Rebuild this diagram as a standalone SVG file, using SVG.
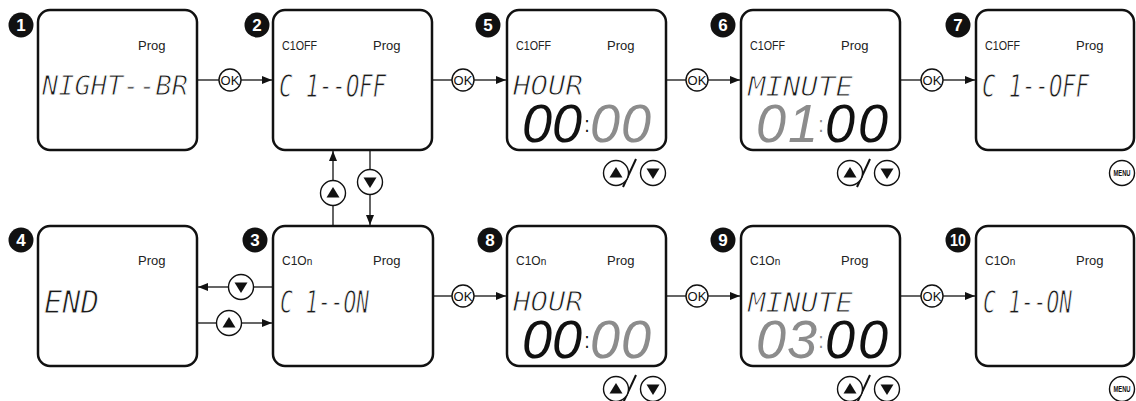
<svg xmlns="http://www.w3.org/2000/svg" xmlns:xlink="http://www.w3.org/1999/xlink" width="1136" height="401" viewBox="0 0 1136 401">
<style>
.panel{fill:#fff;stroke:#111;stroke-width:2.5}
.badge{fill:#111}
.bnum{font-family:"Liberation Sans",Arial,sans-serif;font-weight:bold;font-size:17px;fill:#fff;text-anchor:middle}
.small{font-family:"Liberation Sans",Arial,sans-serif;font-size:13px;fill:#222}
.ind{font-family:"Liberation Sans",Arial,sans-serif;font-size:12px;fill:#222}
.lcd{font-family:"DejaVu Sans Mono",monospace;font-style:oblique;fill:#1a1a1a;stroke:#fff;stroke-width:0.9}
.dig{font-family:"Liberation Sans",Arial,sans-serif;font-style:italic;font-size:54px}
.on{fill:#111}
.off{fill:#8c8c8c}
.col{font-family:"Liberation Sans",Arial,sans-serif;font-size:22px;text-anchor:middle}
.line{stroke:#111;stroke-width:1.3;fill:none}
.btn{fill:#fff;stroke:#111;stroke-width:1.4}
.ok{font-family:"Liberation Sans",Arial,sans-serif;font-size:13px;fill:#111;text-anchor:middle}
.menu{font-family:"Liberation Sans",Arial,sans-serif;font-weight:bold;font-size:9px;fill:#111;text-anchor:middle}
</style>
<defs>
<marker id="arr" markerUnits="userSpaceOnUse" markerWidth="10" markerHeight="8" refX="10" refY="4" orient="auto">
<path d="M0,0 L10,4 L0,8 z" fill="#111"/>
</marker>
<g id="bup"><circle class="btn" r="12.5"/><path d="M-6.5,4.5 L6.5,4.5 L0,-6 z" fill="#111"/></g>
<g id="bdn"><circle class="btn" r="12.5"/><path d="M-6.5,-4.5 L6.5,-4.5 L0,6 z" fill="#111"/></g>
<g id="pair"><line x1="-43" y1="14" x2="-30" y2="-14" stroke="#111" stroke-width="2"/><use xlink:href="#bup" x="-50" y="0"/><use xlink:href="#bdn" x="-13" y="0"/></g>
<g id="menu"><circle class="btn" r="12.5"/><text class="menu" y="3.2" textLength="17" lengthAdjust="spacingAndGlyphs">MENU</text></g>
<g id="okb"><circle class="btn" r="11"/><text class="ok" y="4.6">OK</text></g>
</defs>
<rect width="1136" height="401" fill="#fff"/>

<g id="connectors">
<line class="line" x1="197" y1="80" x2="219" y2="80"/><line class="line" x1="241" y1="80" x2="272" y2="80" marker-end="url(#arr)"/>
<use xlink:href="#okb" x="230" y="80"/>
<line class="line" x1="432" y1="80" x2="452" y2="80"/><line class="line" x1="474" y1="80" x2="506" y2="80" marker-end="url(#arr)"/>
<use xlink:href="#okb" x="463" y="80"/>
<line class="line" x1="666" y1="80" x2="686" y2="80"/><line class="line" x1="708" y1="80" x2="740" y2="80" marker-end="url(#arr)"/>
<use xlink:href="#okb" x="697" y="80"/>
<line class="line" x1="900" y1="80" x2="921" y2="80"/><line class="line" x1="943" y1="80" x2="975" y2="80" marker-end="url(#arr)"/>
<use xlink:href="#okb" x="932" y="80"/>
<line class="line" x1="433" y1="296" x2="452" y2="296"/><line class="line" x1="474" y1="296" x2="506" y2="296" marker-end="url(#arr)"/>
<use xlink:href="#okb" x="463" y="296"/>
<line class="line" x1="666" y1="296" x2="686" y2="296"/><line class="line" x1="708" y1="296" x2="740" y2="296" marker-end="url(#arr)"/>
<use xlink:href="#okb" x="697" y="296"/>
<line class="line" x1="900" y1="296" x2="921" y2="296"/><line class="line" x1="943" y1="296" x2="975" y2="296" marker-end="url(#arr)"/>
<use xlink:href="#okb" x="932" y="296"/>
<line class="line" x1="333" y1="226" x2="333" y2="205"/><line class="line" x1="333" y1="181" x2="333" y2="151" marker-end="url(#arr)"/>
<use xlink:href="#bup" x="333" y="193"/>
<line class="line" x1="370" y1="150" x2="370" y2="170"/><line class="line" x1="370" y1="194" x2="370" y2="225" marker-end="url(#arr)"/>
<use xlink:href="#bdn" x="370" y="182"/>
<line class="line" x1="273" y1="287" x2="253" y2="287"/><line class="line" x1="229" y1="287" x2="198" y2="287" marker-end="url(#arr)"/>
<use xlink:href="#bdn" x="241" y="287"/>
<line class="line" x1="197" y1="323" x2="217" y2="323"/><line class="line" x1="241" y1="323" x2="272" y2="323" marker-end="url(#arr)"/>
<use xlink:href="#bup" x="229" y="323"/>
</g>

<g id="panel1" transform="translate(38,10)">
<rect class="panel" width="159" height="140" rx="12"/>
<circle class="badge" cx="-17" cy="15" r="12.5"/><text class="bnum" x="-17" y="21">1</text>
<text class="small" x="100" y="40">Prog</text>
<text class="lcd" x="4" y="85" font-size="27" textLength="146" lengthAdjust="spacingAndGlyphs">NIGHT--BR</text>
</g>

<g id="panel2" transform="translate(273,10)">
<rect class="panel" width="159" height="140" rx="12"/>
<circle class="badge" cx="-16" cy="15" r="12.5"/><text class="bnum" x="-16" y="21">2</text>
<text class="ind" x="9" y="40" textLength="35" lengthAdjust="spacingAndGlyphs">C1OFF</text>
<text class="small" x="100" y="40">Prog</text>
<text class="lcd" x="6" y="87" font-size="32" textLength="107" lengthAdjust="spacingAndGlyphs">C 1--OFF</text>
</g>

<g id="panel5" transform="translate(507,10)">
<rect class="panel" width="159" height="140" rx="12"/>
<circle class="badge" cx="-19" cy="15" r="12.5"/><text class="bnum" x="-19" y="21">5</text>
<text class="ind" x="9" y="40" textLength="35" lengthAdjust="spacingAndGlyphs">C1OFF</text>
<text class="small" x="100" y="40">Prog</text>
<text class="lcd" x="6" y="85" font-size="27" textLength="70" lengthAdjust="spacingAndGlyphs">HOUR</text>
<text class="dig on" x="15" y="132">0</text><text class="dig on" x="45" y="132">0</text>
<text class="col on" x="80" y="122" textLength="5" lengthAdjust="spacingAndGlyphs">:</text>
<text class="dig off" x="83" y="132">0</text><text class="dig off" x="114" y="132">0</text>
<use xlink:href="#pair" x="159" y="163"/>
</g>

<g id="panel6" transform="translate(741,10)">
<rect class="panel" width="159" height="140" rx="12"/>
<circle class="badge" cx="-18" cy="15" r="12.5"/><text class="bnum" x="-18" y="21">6</text>
<text class="ind" x="9" y="40" textLength="35" lengthAdjust="spacingAndGlyphs">C1OFF</text>
<text class="small" x="100" y="40">Prog</text>
<text class="lcd" x="7" y="86" font-size="27" textLength="105" lengthAdjust="spacingAndGlyphs">MINUTE</text>
<text class="dig off" x="15" y="132">0</text><text class="dig off" x="47" y="132">1</text>
<text class="col off" x="80" y="122" textLength="5" lengthAdjust="spacingAndGlyphs">:</text>
<text class="dig on" x="84" y="132">0</text><text class="dig on" x="117" y="132">0</text>
<use xlink:href="#pair" x="159" y="163"/>
</g>

<g id="panel7" transform="translate(976,10)">
<rect class="panel" width="158" height="140" rx="12"/>
<circle class="badge" cx="-18" cy="15" r="12.5"/><text class="bnum" x="-18" y="21">7</text>
<text class="ind" x="9" y="40" textLength="35" lengthAdjust="spacingAndGlyphs">C1OFF</text>
<text class="small" x="100" y="40">Prog</text>
<text class="lcd" x="6" y="87" font-size="32" textLength="107" lengthAdjust="spacingAndGlyphs">C 1--OFF</text>
<use xlink:href="#menu" x="146" y="163"/>
</g>

<g id="panel4" transform="translate(38,226)">
<rect class="panel" width="159" height="140" rx="12"/>
<circle class="badge" cx="-17" cy="14" r="12.5"/><text class="bnum" x="-17" y="20">4</text>
<text class="small" x="100" y="39">Prog</text>
<text class="lcd" x="6" y="87" font-size="32" textLength="55" lengthAdjust="spacingAndGlyphs">END</text>
</g>

<g id="panel3" transform="translate(273,226)">
<rect class="panel" width="160" height="140" rx="12"/>
<circle class="badge" cx="-18" cy="14" r="12.5"/><text class="bnum" x="-18" y="20">3</text>
<text class="ind" x="9" y="39">C1O<tspan font-size="10">n</tspan></text>
<text class="small" x="100" y="39">Prog</text>
<text class="lcd" x="7" y="87" font-size="32" textLength="89" lengthAdjust="spacingAndGlyphs">C 1--ON</text>
</g>

<g id="panel8" transform="translate(507,226)">
<rect class="panel" width="159" height="140" rx="12"/>
<circle class="badge" cx="-17" cy="14" r="12.5"/><text class="bnum" x="-17" y="20">8</text>
<text class="ind" x="9" y="39">C1O<tspan font-size="10">n</tspan></text>
<text class="small" x="100" y="39">Prog</text>
<text class="lcd" x="6" y="85" font-size="27" textLength="70" lengthAdjust="spacingAndGlyphs">HOUR</text>
<text class="dig on" x="15" y="132">0</text><text class="dig on" x="45" y="132">0</text>
<text class="col on" x="80" y="122" textLength="5" lengthAdjust="spacingAndGlyphs">:</text>
<text class="dig off" x="83" y="132">0</text><text class="dig off" x="114" y="132">0</text>
<use xlink:href="#pair" x="159" y="163"/>
</g>

<g id="panel9" transform="translate(741,226)">
<rect class="panel" width="159" height="140" rx="12"/>
<circle class="badge" cx="-18" cy="14" r="12.5"/><text class="bnum" x="-18" y="20">9</text>
<text class="ind" x="9" y="39">C1O<tspan font-size="10">n</tspan></text>
<text class="small" x="100" y="39">Prog</text>
<text class="lcd" x="7" y="86" font-size="27" textLength="105" lengthAdjust="spacingAndGlyphs">MINUTE</text>
<text class="dig off" x="15" y="132">0</text><text class="dig off" x="46" y="132">3</text>
<text class="col off" x="80" y="122" textLength="5" lengthAdjust="spacingAndGlyphs">:</text>
<text class="dig on" x="84" y="132">0</text><text class="dig on" x="117" y="132">0</text>
<use xlink:href="#pair" x="159" y="163"/>
</g>

<g id="panel10" transform="translate(976,226)">
<rect class="panel" width="158" height="140" rx="12"/>
<circle class="badge" cx="-18" cy="14" r="12.5"/><text class="bnum" x="-18" y="20" textLength="16" lengthAdjust="spacingAndGlyphs">10</text>
<text class="ind" x="9" y="39">C1O<tspan font-size="10">n</tspan></text>
<text class="small" x="100" y="39">Prog</text>
<text class="lcd" x="7" y="87" font-size="32" textLength="89" lengthAdjust="spacingAndGlyphs">C 1--ON</text>
<use xlink:href="#menu" x="146" y="163"/>
</g>
</svg>
